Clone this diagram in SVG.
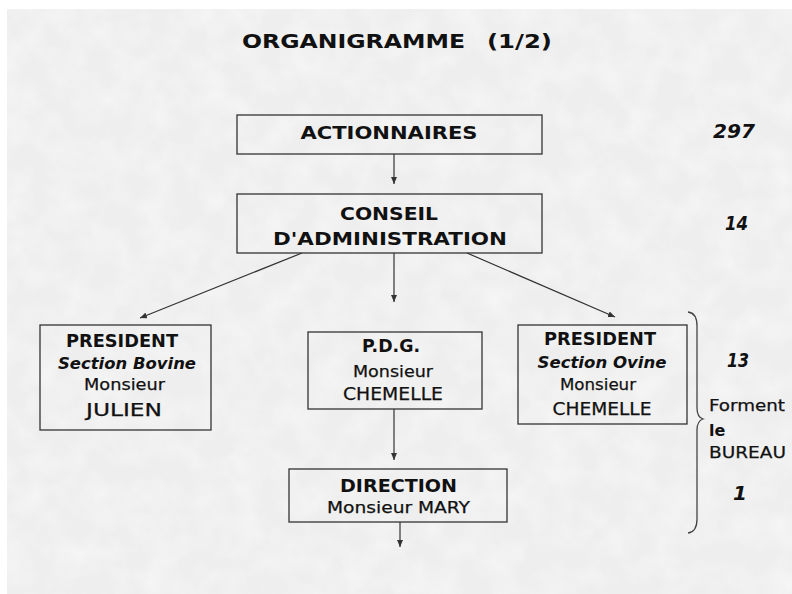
<svg xmlns="http://www.w3.org/2000/svg" width="792" height="594" viewBox="0 0 792 594">
  <defs>
    <filter id="paper" x="0" y="0" width="100%" height="100%">
      <feTurbulence type="fractalNoise" baseFrequency="0.035" numOctaves="3" seed="7"/>
      <feColorMatrix type="matrix" values="0 0 0 0 1  0 0 0 0 1  0 0 0 0 1  1.3 0 0 0 -0.45"/>
    </filter>
    <marker id="arrow" markerWidth="8" markerHeight="6" refX="7" refY="3" orient="auto" markerUnits="userSpaceOnUse">
      <path d="M0,0 L7,3 L0,6 z" fill="#333"/>
    </marker>
    <style>
      text { font-family: "DejaVu Sans", "Liberation Sans", sans-serif; fill: #111; text-anchor: middle; }
      .b { font-weight: bold; }
      .bi { font-weight: bold; font-style: italic; }
      .r { font-weight: normal; stroke: #111; stroke-width: 0.25; }
      .num { font-weight: bold; font-style: italic; font-size: 20px; text-anchor: start; }
      .side { font-size: 16px; text-anchor: start; }
      .box { fill: none; stroke: #333; stroke-width: 1.3; }
      .link { fill: none; stroke: #333; stroke-width: 1.2; marker-end: url(#arrow); }
    </style>
  </defs>

  <!-- paper background -->
  <rect x="0" y="0" width="792" height="594" fill="#ffffff"/>
  <rect x="7" y="9" width="785" height="585" fill="#eeeeee"/>
  <rect x="7" y="9" width="785" height="585" filter="url(#paper)" opacity="0.6"/>

  <!-- title -->
  <g id="title">
    <text class="b" x="353.5" y="48" font-size="19" textLength="223" lengthAdjust="spacingAndGlyphs">ORGANIGRAMME</text>
    <text class="b" x="519.5" y="48" font-size="19" textLength="65" lengthAdjust="spacingAndGlyphs">(1/2)</text>
  </g>

  <!-- connectors -->
  <g id="connectors">
    <line class="link" x1="394" y1="154" x2="394" y2="184"/>
    <line class="link" x1="302" y1="253" x2="140" y2="318"/>
    <line class="link" x1="394" y1="253" x2="394" y2="302"/>
    <line class="link" x1="467" y1="253" x2="615" y2="317"/>
    <line class="link" x1="394" y1="409" x2="394" y2="460"/>
    <line class="link" x1="400" y1="522" x2="400" y2="547"/>
  </g>

  <g id="actionnaires">
    <rect class="box" x="237" y="115" width="305" height="39"/>
    <text class="b" x="389" y="139" font-size="17" textLength="177" lengthAdjust="spacingAndGlyphs">ACTIONNAIRES</text>
  </g>

  <g id="conseil">
    <rect class="box" x="237" y="194" width="305" height="59"/>
    <text class="b" x="389" y="220" font-size="18" textLength="98" lengthAdjust="spacingAndGlyphs">CONSEIL</text>
    <text class="b" x="390" y="245" font-size="18" textLength="234" lengthAdjust="spacingAndGlyphs">D'ADMINISTRATION</text>
  </g>

  <g id="president-bovine">
    <rect class="box" x="40" y="325" width="171" height="105"/>
    <text class="b" x="122" y="347" font-size="17" textLength="112" lengthAdjust="spacingAndGlyphs">PRESIDENT</text>
    <text class="bi" x="127" y="369" font-size="16" textLength="138" lengthAdjust="spacingAndGlyphs">Section Bovine</text>
    <text class="r" x="124.5" y="390" font-size="16" textLength="81" lengthAdjust="spacingAndGlyphs">Monsieur</text>
    <text class="r" x="124" y="416" font-size="17" textLength="76" lengthAdjust="spacingAndGlyphs">JULIEN</text>
  </g>

  <g id="pdg">
    <rect class="box" x="308" y="332" width="174" height="77"/>
    <text class="b" x="391" y="352" font-size="17" textLength="58" lengthAdjust="spacingAndGlyphs">P.D.G.</text>
    <text class="r" x="393" y="377" font-size="16" textLength="80" lengthAdjust="spacingAndGlyphs">Monsieur</text>
    <text class="r" x="393" y="400" font-size="17" textLength="100" lengthAdjust="spacingAndGlyphs">CHEMELLE</text>
  </g>

  <g id="president-ovine">
    <rect class="box" x="518" y="325" width="169" height="99"/>
    <text class="b" x="600" y="345" font-size="17" textLength="112" lengthAdjust="spacingAndGlyphs">PRESIDENT</text>
    <text class="bi" x="602" y="368" font-size="16" textLength="129" lengthAdjust="spacingAndGlyphs">Section Ovine</text>
    <text class="r" x="598" y="390" font-size="16" textLength="76" lengthAdjust="spacingAndGlyphs">Monsieur</text>
    <text class="r" x="602" y="415" font-size="17" textLength="99" lengthAdjust="spacingAndGlyphs">CHEMELLE</text>
  </g>

  <g id="direction">
    <rect class="box" x="289" y="469" width="218" height="53"/>
    <text class="b" x="398.5" y="492" font-size="17" textLength="117" lengthAdjust="spacingAndGlyphs">DIRECTION</text>
    <text class="r" x="398.5" y="513" font-size="16" textLength="143" lengthAdjust="spacingAndGlyphs">Monsieur MARY</text>
  </g>

  <!-- head counts -->
  <g id="counts">
    <text class="num" x="713" y="138" textLength="42" lengthAdjust="spacingAndGlyphs">297</text>
    <text class="num" x="725" y="230" textLength="23" lengthAdjust="spacingAndGlyphs">14</text>
    <text class="num" x="727" y="367" textLength="22" lengthAdjust="spacingAndGlyphs">13</text>
    <text class="num" x="733" y="500">1</text>
  </g>

  <!-- bureau brace -->
  <g id="bureau">
    <path d="M688,312 Q697,313 697,326 L697,408 Q697,417 703,419 Q697,421 697,430 L697,519 Q697,532 688,533" fill="none" stroke="#444" stroke-width="1.3"/>
    <text class="side r" x="709" y="411" textLength="76" lengthAdjust="spacingAndGlyphs">Forment</text>
    <text class="side b" x="709" y="436">le</text>
    <text class="side r" x="709" y="458" textLength="77" lengthAdjust="spacingAndGlyphs">BUREAU</text>
  </g>
</svg>
